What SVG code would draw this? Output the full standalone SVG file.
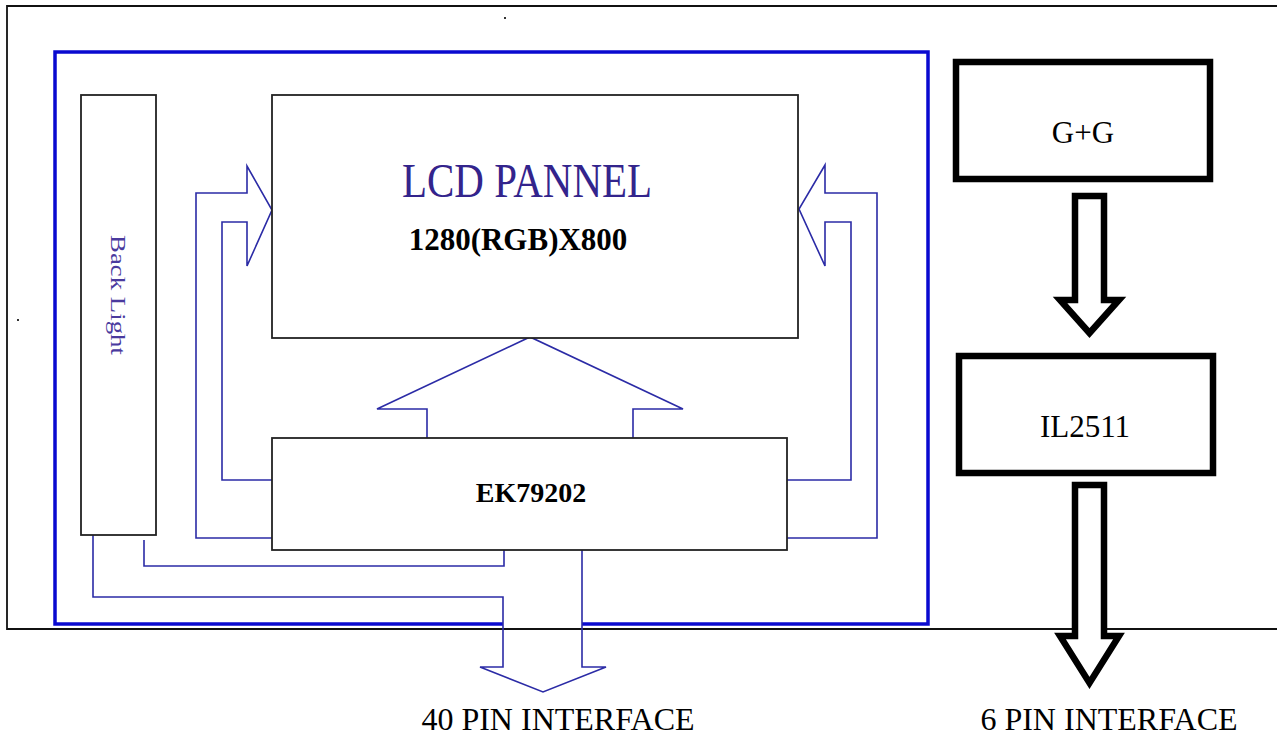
<svg xmlns="http://www.w3.org/2000/svg" width="1277" height="738" viewBox="0 0 1277 738">
<style>
.frame{fill:none;stroke:#111;stroke-width:1.8}
.box{fill:#fff;stroke:#222;stroke-width:1.8}
.bold{fill:#fff;stroke:#000;stroke-width:6.5}
.wire{fill:none;stroke:#2b2ba6;stroke-width:1.6;stroke-linejoin:miter}
.blue{fill:none;stroke:#0a0ad0;stroke-width:3.5}
.tnr{font-family:"Liberation Serif","Times New Roman",serif}
</style>
<rect width="1277" height="738" fill="#fff"/>
<g id="frame">
<path class="frame" d="M1277 6H7V629H1277"/>
<path class="blue" d="M503 624H55V52H928V624H582"/>
<rect x="504" y="17" width="2" height="2" fill="#333"/>
<rect x="17" y="319" width="2" height="2" fill="#333"/>
</g>
<g id="connectors">
<polyline class="wire" points="272,538 196,538 196,193 247,193 247,166 272,210 247,266 247,222 222,222 222,480 272,480"/>
<polyline class="wire" points="787,538 877,538 877,193 825,193 825,165 799,209 825,266 825,222 851,222 851,480 787,480"/>
<polyline class="wire" points="427,438 427,409 377,409 530,337 683,409 633,409 633,438"/>
<polyline class="wire" points="144,540 144,566 504,566 504,550"/>
<polyline class="wire" points="93,535 93,597 503,597 503,667 480,667 543,692 606,667 582,667 582,550"/>
<polygon class="bold" points="1075,196 1104,196 1104,300 1119,300 1089.5,333 1060,300 1075,300"/>
<polygon class="bold" points="1075,485 1104,485 1104,636 1119,636 1089.5,683 1060,636 1075,636"/>
</g>
<g id="backlight">
<rect class="box" x="81" y="95" width="75" height="440"/>
<text class="tnr" x="0" y="0" transform="translate(111,235) rotate(90)" font-size="22" fill="#4a3a9e" textLength="120" lengthAdjust="spacingAndGlyphs">Back Light</text>
</g>
<g id="lcd">
<rect class="box" x="272" y="95" width="526" height="243"/>
<text class="tnr" x="0" y="0" transform="translate(527,197) scale(1,1.2)" font-size="41" fill="#33248c" text-anchor="middle">LCD PANNEL</text>
<text class="tnr" x="518" y="250" font-size="31" font-weight="bold" fill="#000" text-anchor="middle">1280(RGB)X800</text>
</g>
<g id="ek79202">
<rect class="box" x="272" y="438" width="515" height="112"/>
<text class="tnr" x="531" y="502" font-size="28" font-weight="bold" fill="#000" text-anchor="middle">EK79202</text>
</g>
<g id="gg">
<rect class="bold" x="956" y="62" width="254" height="117"/>
<text class="tnr" x="1083" y="143" font-size="31" fill="#000" text-anchor="middle">G+G</text>
</g>
<g id="il2511">
<rect class="bold" x="959" y="356" width="254" height="117"/>
<text class="tnr" x="1085" y="437" font-size="31" fill="#000" text-anchor="middle">IL2511</text>
</g>
<g id="labels">
<text class="tnr" x="558" y="730" font-size="32" fill="#000" text-anchor="middle">40 PIN INTERFACE</text>
<text class="tnr" x="1109" y="730" font-size="32" fill="#000" text-anchor="middle">6 PIN INTERFACE</text>
</g>
</svg>
